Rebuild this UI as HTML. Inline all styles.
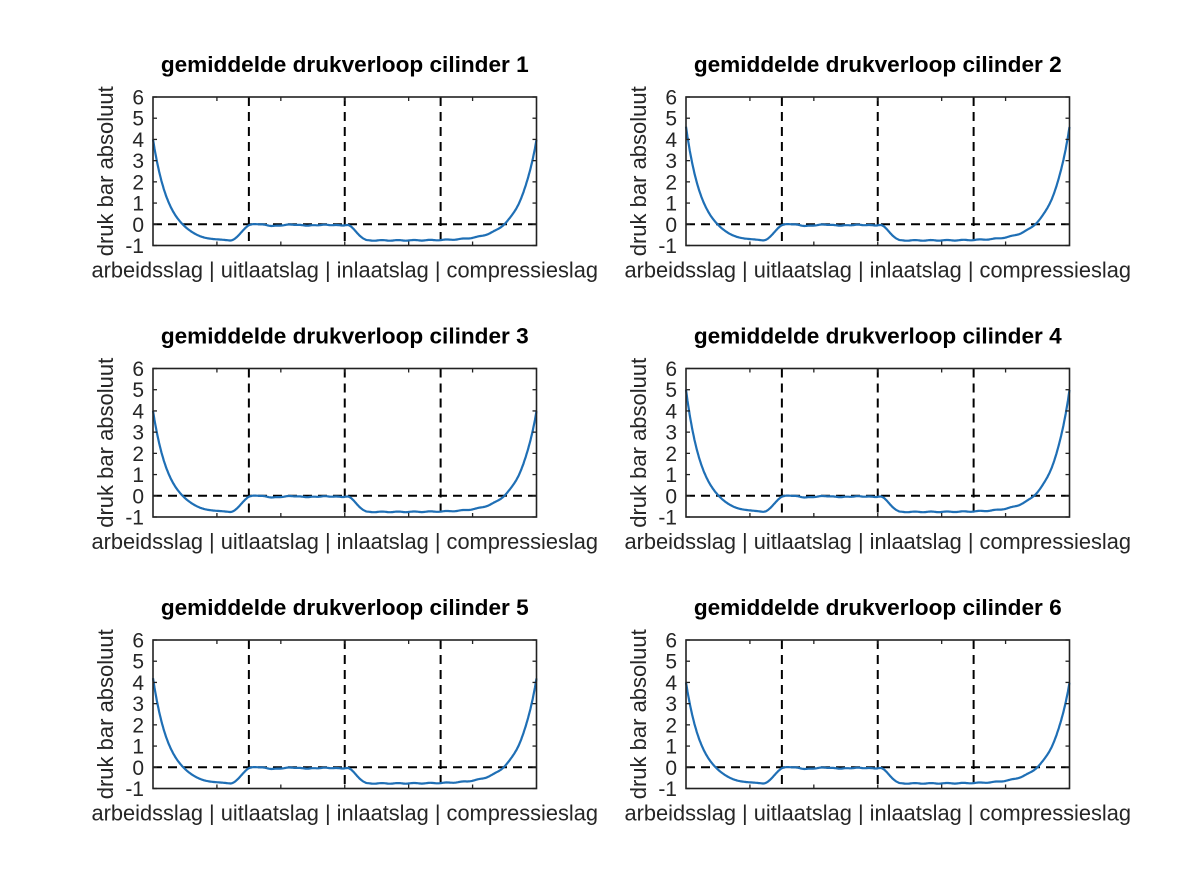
<!DOCTYPE html>
<html><head><meta charset="utf-8"><style>
html,body{margin:0;padding:0;background:#fff;}
svg{display:block;font-family:"Liberation Sans",Arial,sans-serif;}
</style></head><body>
<svg id="s" width="1181" height="886" viewBox="0 0 1181 886" xmlns="http://www.w3.org/2000/svg"></svg>
<script>
const svg=document.getElementById('s');
const P0=[4.0,4.6,4.0,5.0,4.2,4.0];
const lefts=[153,686];
const tops=[97,368.5,640];
const W=383.5,H=148.5;
let out='';
function ss(a,b,t){let x=Math.min(1,Math.max(0,(t-a)/(b-a)));return x*x*(3-2*x);}
for(let i=0;i<6;i++){
  const L=lefts[i%2],T=tops[Math.floor(i/2)],B=T+H,R=L+W;
  const y=v=>B-(v+1)*H/7;
  const p0=P0[i];
  let pts=[];
  const N=500;
  for(let k=0;k<=N;k++){
    const t=k/N;let p;
    if(t<0.25){
      p=-0.82+(p0+0.82)*Math.exp(-t/0.043);
      p=p+(0.82)*ss(0.2,0.258,t);
      p+= -0.02*Math.sin(t*60);
    }else if(t<0.5){
      p=-0.04+0.06*Math.sin((t-0.25)*70)*Math.exp(-(t-0.25)*8)+0.01*Math.sin(t*200);
    }else{
      p=-0.04-0.72*ss(0.505,0.56,t)+0.015*Math.sin(t*150);
      p+=(p0+0.76)*Math.exp(-(1-t)/0.046);
    }
    pts.push((L+t*W).toFixed(1)+','+y(p).toFixed(1));
  }
  out+=`<line x1="${L}" y1="${y(0)}" x2="${R}" y2="${y(0)}" stroke="#000" stroke-width="2" stroke-dasharray="9,6"/>`;
  for(let q=1;q<=3;q++){const x=L+q*W/4;out+=`<line x1="${x}" y1="${T}" x2="${x}" y2="${B}" stroke="#000" stroke-width="2" stroke-dasharray="9,6"/>`;}
  out+=`<polyline points="${pts.join(' ')}" fill="none" stroke="#1f6fb5" stroke-width="2.2"/>`;
  out+=`<rect x="${L}" y="${T}" width="${W}" height="${H}" fill="none" stroke="#222" stroke-width="1.6"/>`;
  for(let q=1;q<6;q++){const x=L+q*W/6;out+=`<line x1="${x}" y1="${T}" x2="${x}" y2="${T+4}" stroke="#222" stroke-width="1.3"/><line x1="${x}" y1="${B}" x2="${x}" y2="${B-4}" stroke="#222" stroke-width="1.3"/>`;}
  for(let v=-1;v<=6;v++){const yy=y(v);
    out+=`<line x1="${L}" y1="${yy}" x2="${L+4}" y2="${yy}" stroke="#222" stroke-width="1.3"/><line x1="${R}" y1="${yy}" x2="${R-4}" y2="${yy}" stroke="#222" stroke-width="1.3"/>`;
    out+=`<text x="${L-9}" y="${yy+7.5}" font-size="21" text-anchor="end" fill="#262626">${v}</text>`;}
  out+=`<text x="${(L+R)/2}" y="${T-25}" font-size="22.6" font-weight="bold" text-anchor="middle" fill="#000">gemiddelde drukverloop cilinder ${i+1}</text>`;
  out+=`<text x="${(L+R)/2}" y="${B+32}" font-size="21.8" text-anchor="middle" fill="#262626">arbeidsslag | uitlaatslag | inlaatslag | compressieslag</text>`;
  out+=`<text transform="translate(${L-40},${(T+B)/2}) rotate(-90)" font-size="22" text-anchor="middle" fill="#262626">druk bar absoluut</text>`;
}
svg.innerHTML=out;
</script>
</body></html>
